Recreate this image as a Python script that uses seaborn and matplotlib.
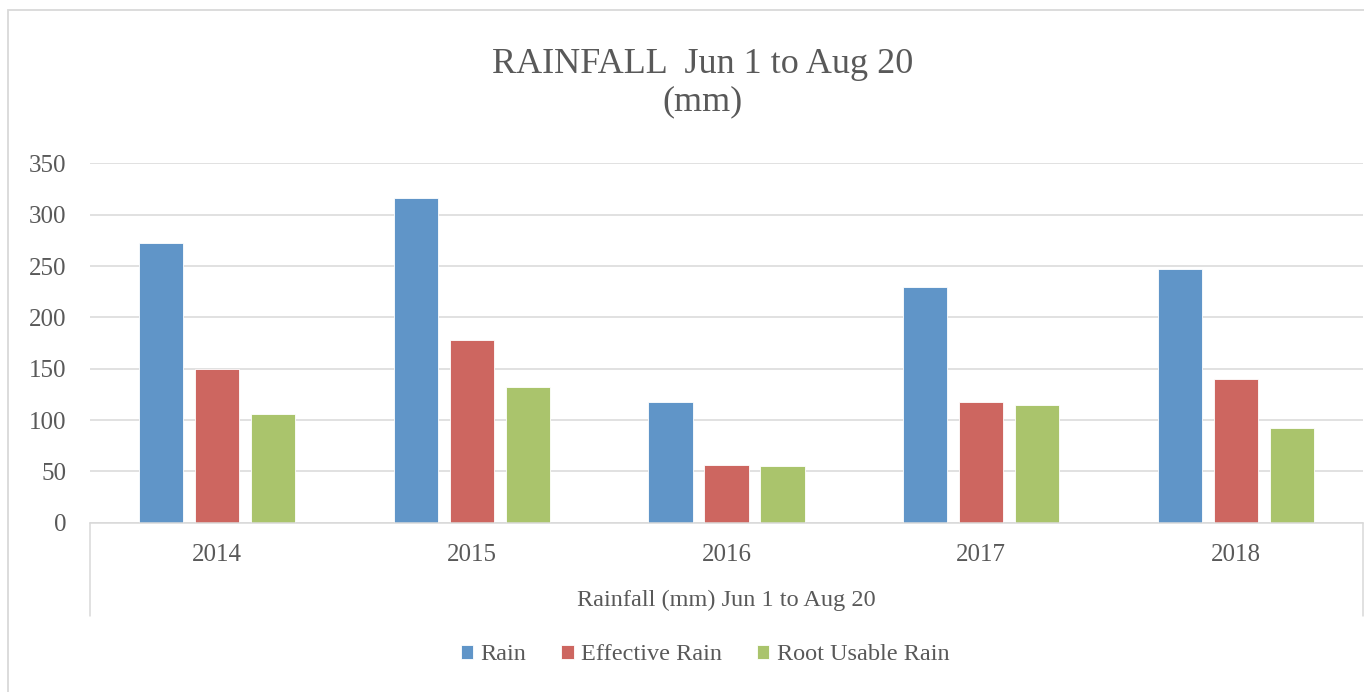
import numpy as np
import pandas as pd
import matplotlib
matplotlib.use("Agg")
import matplotlib.pyplot as plt
import seaborn as sns
from matplotlib.patches import Rectangle

# data
years = ["2014", "2015", "2016", "2017", "2018"]
rain = [272, 316, 118, 230, 247]
effective_rain = [150, 178, 56, 118, 140]
root_usable_rain = [106, 132, 55, 115, 92]
series_names = ["Rain", "Effective Rain", "Root Usable Rain"]
colors = ["#6095C8", "#CD6660", "#AAC46C"]

TEXT = "#595959"
GRID = "#D9D9D9"


def setup_style():
    sns.set_theme(style="white")
    plt.rcParams['font.family'] = ['Liberation Serif', 'DejaVu Serif']
    plt.rcParams['text.color'] = TEXT
    plt.rcParams['axes.labelcolor'] = TEXT
    plt.rcParams['xtick.color'] = TEXT
    plt.rcParams['ytick.color'] = TEXT


def main():
    setup_style()

    df = pd.DataFrame({
        "year": years,
        "Rain": rain,
        "Effective Rain": effective_rain,
        "Root Usable Rain": root_usable_rain,
    }).melt(id_vars="year", var_name="series", value_name="mm")

    W, H = 1364, 692
    fig = plt.figure(figsize=(W / 100, H / 100), dpi=100)
    ax = fig.add_axes([90 / W, 1 - 522.7 / H, 1273 / W, 359.3 / H])

    sns.barplot(data=df, x="year", y="mm", hue="series", hue_order=series_names,
                palette=colors, width=0.66, gap=0.21, ax=ax,
                edgecolor="white", linewidth=0.6, saturation=1)

    ax.set_ylim(0, 350)
    ax.set_yticks(np.arange(0, 351, 50))
    ax.set_xlim(-0.5, len(years) - 0.5)
    ax.yaxis.grid(True, color=GRID, linewidth=1.1)
    ax.set_axisbelow(True)
    for side in ["top", "right", "left"]:
        ax.spines[side].set_visible(False)
    ax.spines["bottom"].set_color(GRID)
    ax.spines["bottom"].set_linewidth(1.1)
    ax.tick_params(axis="y", length=0, pad=17, labelsize=18)
    ax.tick_params(axis="x", length=0, pad=15, labelsize=18)
    ax.set_xlabel("")
    ax.set_ylabel("")

    # category "table" lines under the axis
    depth = -93 / 359.3
    for xa in (0, 1):
        ax.plot([xa, xa], [0, depth], transform=ax.transAxes, color=GRID,
                linewidth=1.1, clip_on=False)

    fig.text((90 + 1363) / 2 / W, 1 - 600 / H, "Rainfall (mm) Jun 1 to Aug 20",
             ha="center", va="center", fontsize=17.5, color=TEXT)

    fig.text(703 / W, 1 - 83 / H, "RAINFALL  Jun 1 to Aug 20\n(mm)",
             ha="center", va="center", fontsize=26, color=TEXT, linespacing=1.15)

    sns.move_legend(ax, "center", bbox_to_anchor=(705 / W, 1 - 655 / H),
                    bbox_transform=fig.transFigure, ncol=3, frameon=False,
                    title=None, fontsize=17.5, handlelength=0.5, handleheight=0.5,
                    handletextpad=0.3, columnspacing=1.45)

    # chart area border
    fig.patches.append(Rectangle((8 / W, -0.05), 2, 1.05 - 10 / H,
                                 transform=fig.transFigure, fill=False,
                                 edgecolor=GRID, linewidth=1.3))

    fig.savefig("out.png", dpi=100)
    plt.close(fig)


if __name__ == "__main__":
    main()
